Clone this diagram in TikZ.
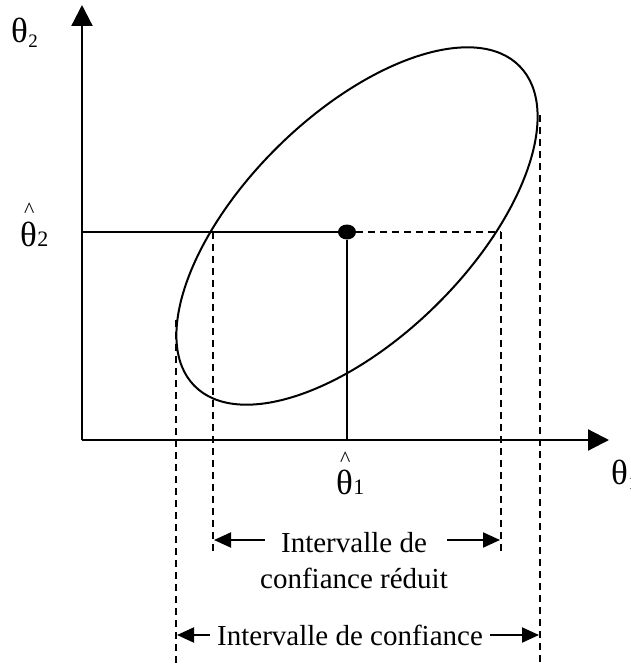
\documentclass[tikz,border=0pt]{standalone}
\usepackage{fontspec}
\setmainfont{Liberation Serif}
\usetikzlibrary{arrows.meta,shapes.geometric}
\newcommand{\hatover}[1]{\makebox[0pt][l]{\hspace{4pt}\raisebox{#1}[0pt][0pt]{\fontsize{22}{24}\selectfont\textasciicircum}}θ}
\begin{document}
\begin{tikzpicture}[x=1pt,y=-1pt,
  axis/.style={line width=2.2pt,-{Triangle[length=21pt,width=21pt]}},
  dline/.style={line width=1.8pt,dash pattern=on 7pt off 5pt},
  iarrow/.style={line width=2pt,-{Triangle[length=17pt,width=15pt]}},
  lbl/.style={inner sep=0pt,font=\fontsize{29}{34}\selectfont},
  greek/.style={inner sep=0pt,anchor=base west,font=\fontsize{35}{38}\selectfont}]
\useasboundingbox (0,0) rectangle (631,666);
% axes
\coordinate (O) at (82,440);
\coordinate (ytip) at (82,5);
\coordinate (xtip) at (609,440);
\draw[axis] (O) -- (ytip);
\draw[axis] (O) -- (xtip);
% ellipse
\draw[line width=2pt] (357,226) ellipse[x radius=228, y radius=112, rotate=44.5];
% estimate point
\node[fill=black,ellipse,minimum width=18pt,minimum height=15pt,inner sep=0pt] (dot) at (347,232) {};
\coordinate (yleft) at (82,232);
\coordinate (xfoot) at (347,440);
\coordinate (rint) at (501,232);
\draw[line width=2pt] (yleft) -- (dot.west);
\draw[line width=2pt] (dot.south) -- (xfoot);
\draw[dline] (dot.east) -- (rint);
% dashed projections
\coordinate (a1) at (176,320); \coordinate (a2) at (176,666);
\coordinate (b1) at (213,232); \coordinate (b2) at (213,552);
\coordinate (c2) at (501,552);
\coordinate (d1) at (540,115); \coordinate (d2) at (540,666);
\draw[dline] (a1) -- (a2);
\draw[dline] (b1) -- (b2);
\draw[dline] (rint) -- (c2);
\draw[dline] (d1) -- (d2);
% labels on axes
\node[greek] (t2) at (11,43) {θ};
\node[inner sep=0pt,anchor=base west,font=\fontsize{19}{22}\selectfont] (t2s) at (t2.base east) [yshift=-5pt] {2};
\node[greek] (h2) at (20,246) {\hatover{29pt}};
\node[inner sep=0pt,anchor=base west,font=\fontsize{22}{24}\selectfont] (h2s) at (h2.base east) {2};
\node[greek] (h1) at (336,494) {\hatover{28pt}};
\node[inner sep=0pt,anchor=base west,font=\fontsize{22}{24}\selectfont] (h1s) at (h1.base east) {1};
\node[greek] (t1) at (611,484) {θ};
\node[inner sep=0pt,anchor=base west,font=\fontsize{19}{22}\selectfont] (t1s) at (t1.base east) [yshift=-5pt] {1};
% interval labels
\node[lbl] (red1) at (354,543) {Intervalle de};
\node[lbl] (red2) at (354,578) {confiance réduit};
\node[lbl] (full) at (350,635) {Intervalle de confiance};
\coordinate (rl) at (214,540); \coordinate (rr) at (500,540);
\coordinate (fl) at (177,635); \coordinate (fr) at (539,635);
\draw[iarrow] ([xshift=-16pt]red1.west|-rl) -- (rl);
\draw[iarrow] ([xshift=20pt]red1.east|-rr) -- (rr);
\draw[iarrow] ([xshift=-7pt]full.west|-fl) -- (fl);
\draw[iarrow] ([xshift=7pt]full.east|-fr) -- (fr);
\end{tikzpicture}
\end{document}
